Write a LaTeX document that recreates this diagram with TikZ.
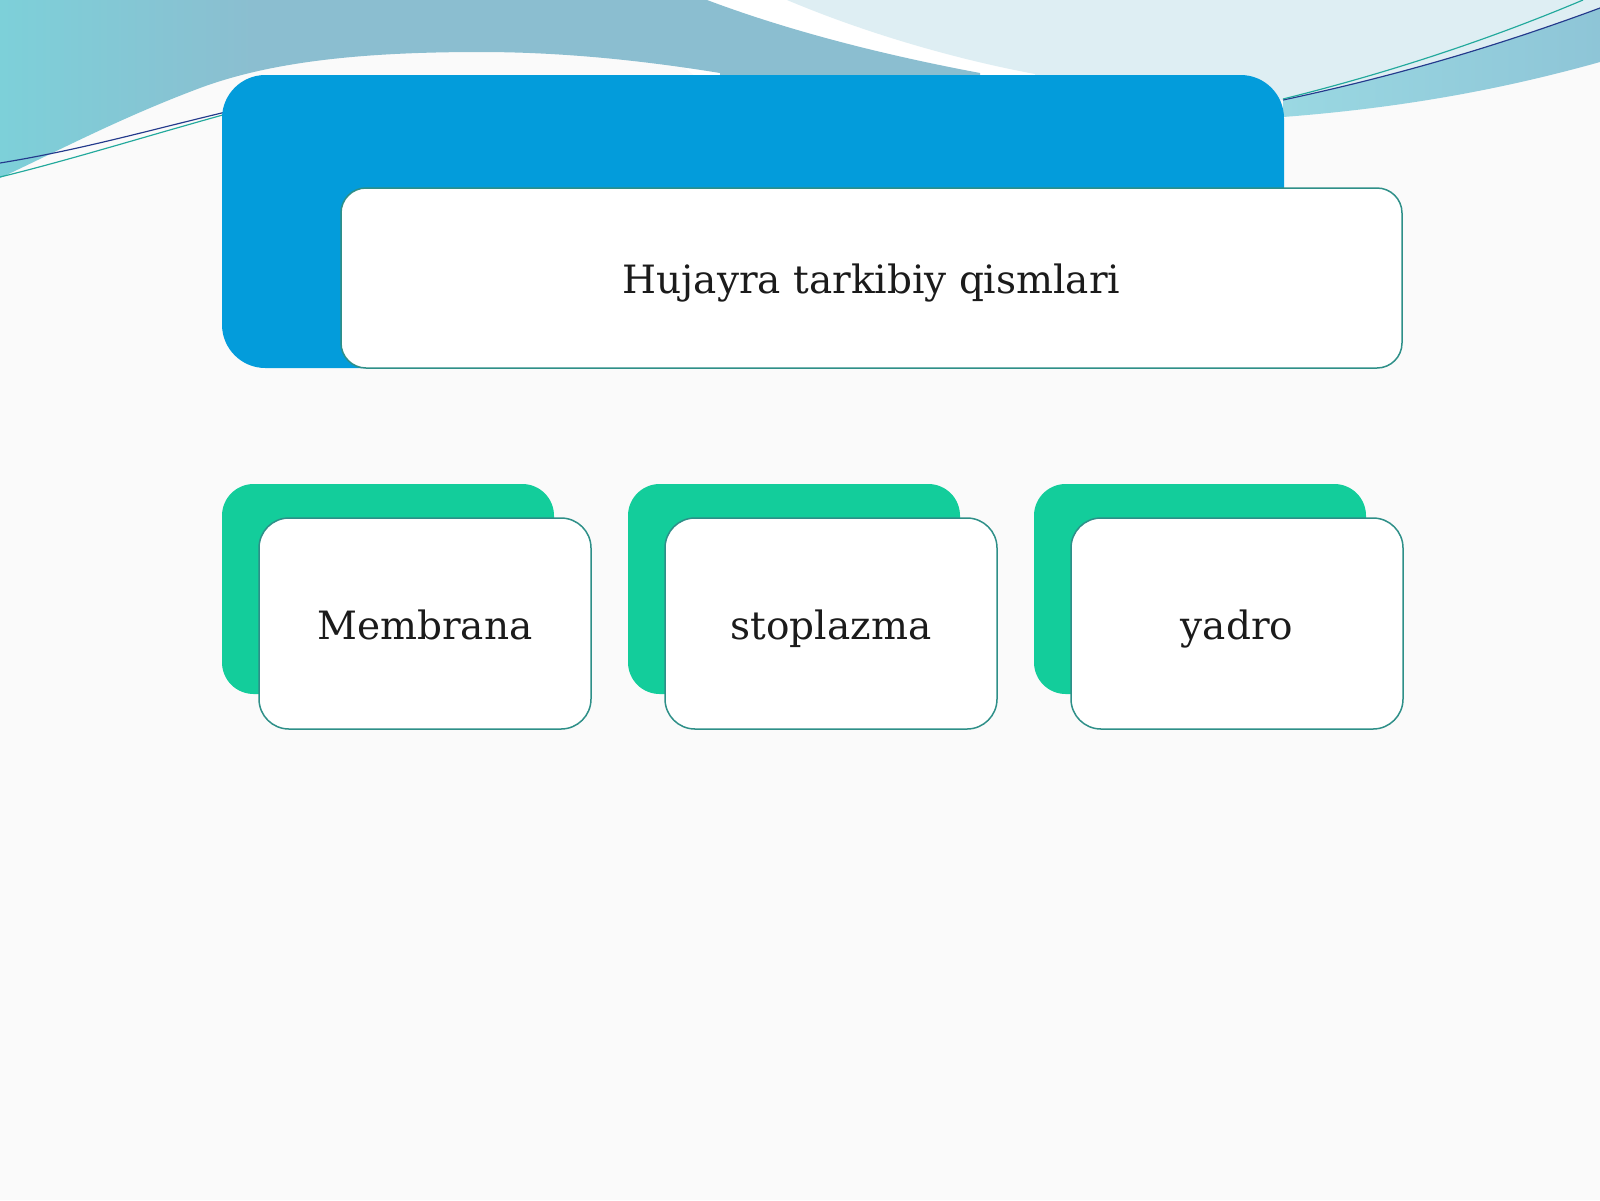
\documentclass[tikz,border=0pt]{standalone}
\usepackage{fontspec}
\setmainfont{DejaVu Serif}
\definecolor{bgc}{HTML}{FAFAFA}
\definecolor{bandA}{HTML}{7DD0D9}
\definecolor{bandB}{HTML}{8BBED0}
\definecolor{lightR}{HTML}{DEEEF3}
\definecolor{bandRA}{HTML}{9AD8E2}
\definecolor{bandRB}{HTML}{8EC5D7}
\definecolor{tealline}{HTML}{22A99C}
\definecolor{navyline}{HTML}{243A8C}
\definecolor{mainblue}{HTML}{039CDB}
\definecolor{maingreen}{HTML}{13CD9B}
\definecolor{cardedge}{HTML}{2E8F88}
\definecolor{txt}{HTML}{1B1B1B}
\pgfdeclarehorizontalshading{leftband}{100bp}{color(0bp)=(bandA); color(25bp)=(bandA); color(38bp)=(bandB); color(100bp)=(bandB)}
\tikzset{
  bluebox/.style={fill=mainblue, rounded corners=13pt, minimum width=318.6pt, minimum height=87.9pt, inner sep=0pt},
  greenbox/.style={fill=maingreen, rounded corners=9.5pt, minimum width=99.6pt, minimum height=63pt, inner sep=0pt},
  cardbox/.style={fill=white, draw=cardedge, line width=0.45pt, rounded corners=9pt, inner sep=0pt,
    text=txt, font=\fontsize{11.7pt}{14pt}\selectfont},
  titlebox/.style={cardbox, rounded corners=7.5pt, minimum width=318.3pt, minimum height=54pt,
    text height=9.3pt, text depth=0.1pt},
  smallcard/.style={cardbox, minimum width=99.6pt, minimum height=63.3pt,
    text height=9.4pt, text depth=0.1pt},
  thinline/.style={line width=0.35pt}
}
\begin{document}
\begin{tikzpicture}[x=0.3pt,y=-0.3pt]
\useasboundingbox (0,0) rectangle (1600,1200);
\fill[bgc] (0,0) rectangle (1600,1200);
% white stripe under the waves
\fill[white] (600,0) -- (900,0) -- (1100,80) -- (700,80) -- cycle;
% right light region
\fill[lightR] (787,0) -- (1600,0) -- (1600,8) .. controls (1500,45) and (1400,75) .. (1283,100)
  -- (1100,120) -- (1035,90) -- (1035,74) .. controls (960,60) and (870,35) .. (787,0) -- cycle;
% left band
\shade[shading=leftband] (0,0) -- (707,0) .. controls (800,35) and (900,58) .. (980,73)
  -- (980,76) -- (720,76) -- (720,73) .. controls (640,60) and (560,52) .. (480,52)
  .. controls (360,52) and (270,62) .. (200,88)
  .. controls (120,118) and (60,150) .. (0,178) -- cycle;
% right band
\shade[left color=bandRA, right color=bandRB] (1283,100) .. controls (1400,75) and (1500,45) .. (1600,8)
  -- (1600,62) .. controls (1500,90) and (1400,108) .. (1283,117) -- cycle;
% thin lines
\draw[thinline, navyline] (1283,100) .. controls (1400,75) and (1500,45) .. (1600,8);
\draw[thinline, tealline] (1283,99) .. controls (1400,70) and (1500,35) .. (1583,0);
\draw[thinline, navyline] (230,111) .. controls (150,130) and (80,150) .. (0,163);
\draw[thinline, tealline] (230,113) .. controls (150,135) and (70,160) .. (0,177);
% title group
\node[bluebox] (blueback) at (753,221.5) {};
\node[titlebox] (title) at (871.5,278) {Hujayra tarkibiy qismlari};
% cards
\node[greenbox] (g1) at (388,589) {};
\node[greenbox] (g2) at (794,589) {};
\node[greenbox] (g3) at (1200,589) {};
\node[smallcard] (c1) at (425,623.5) {Membrana};
\node[smallcard] (c2) at (831,623.5) {stoplazma};
\node[smallcard] (c3) at (1237,623.5) {yadro};
\end{tikzpicture}
\end{document}
